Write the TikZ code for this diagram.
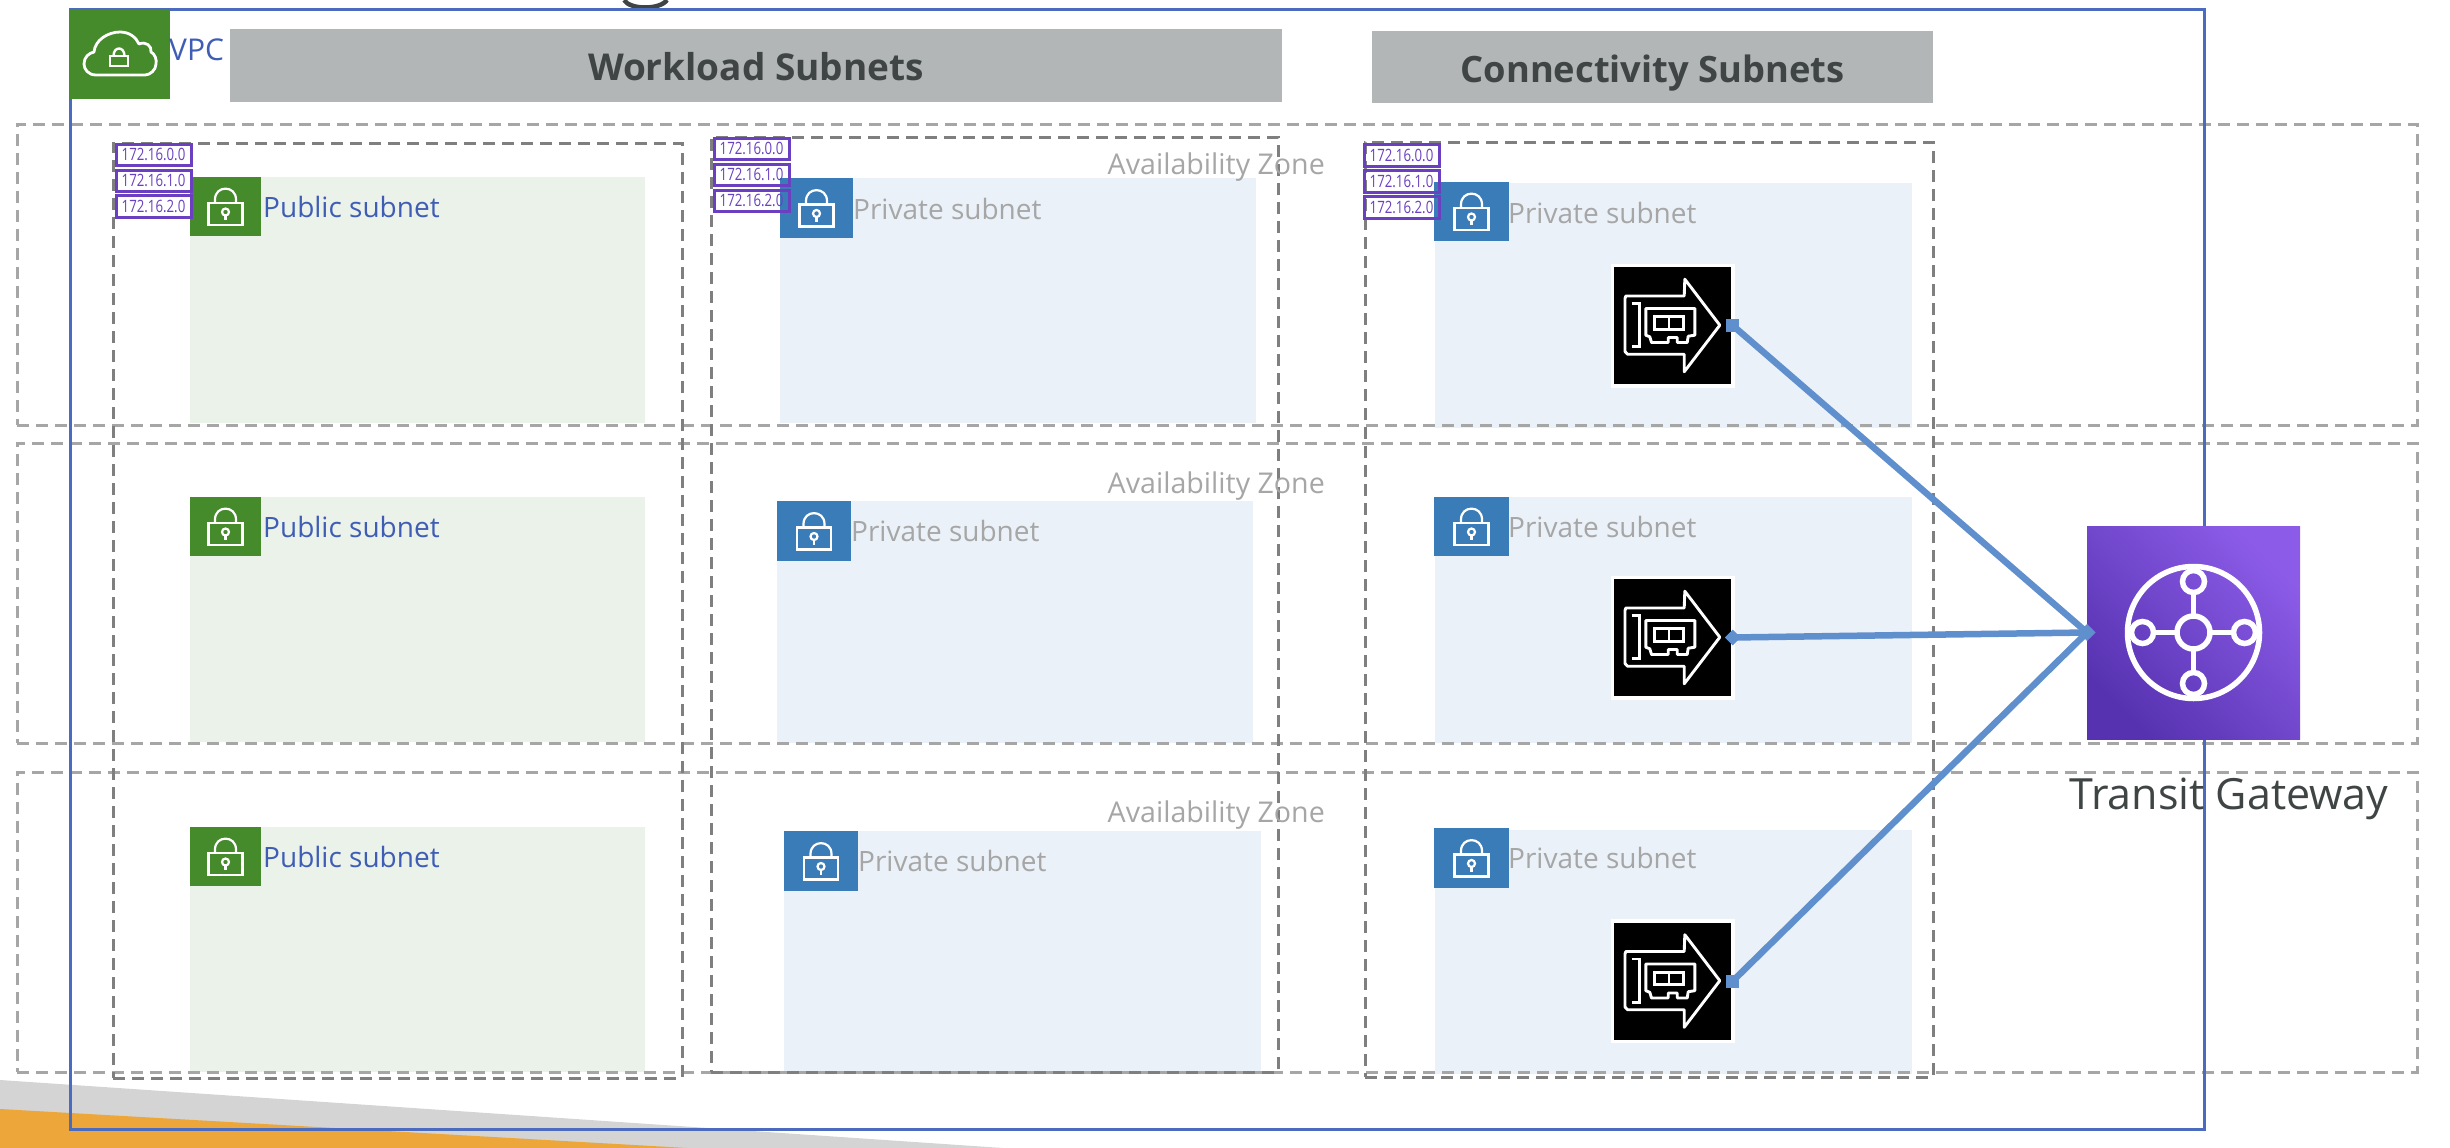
\documentclass[tikz,border=0pt]{standalone}
\usepackage{fontspec}
\setmainfont{Open Sans}
\newfontfamily\cidrfont[FakeStretch=0.78]{Open Sans}
\definecolor{vpcblue}{HTML}{4A6BBE}
\definecolor{labelblue}{HTML}{3F5DB5}
\definecolor{azgray}{HTML}{A6A6A6}
\definecolor{colgray}{HTML}{7F7F7F}
\definecolor{banner}{HTML}{B3B6B6}
\definecolor{inktext}{HTML}{3F4444}
\definecolor{pubfill}{HTML}{EAF2EA}
\definecolor{privfill}{HTML}{EAF1F8}
\definecolor{pubicon}{HTML}{458A2B}
\definecolor{privicon}{HTML}{3A7CB8}
\definecolor{cidr}{HTML}{6A3FC0}
\definecolor{conn}{HTML}{5F8FCC}
\definecolor{wedgegray}{HTML}{D4D4D4}
\definecolor{wedgeorange}{HTML}{ECA63A}
\definecolor{tgwlow}{HTML}{5632B0}
\definecolor{tgwhigh}{HTML}{8C5CE8}
\newcommand{\fs}[1]{\fontsize{#1}{#1}\selectfont}
\newcommand{\rectnode}[7]{%
  \pgfmathsetmacro{\rw}{#5-#3}\pgfmathsetmacro{\rh}{#6-#4}%
  \node[#2,anchor=north west,minimum width=\rw pt,minimum height=\rh pt] (#1) at (#3,#4) {#7};}
\newcommand{\lockbox}[6]{%
  \rectnode{#1}{#2}{#3}{#4}{#5}{#6}{}%
  \pic at (#1.center) {lockicon};}
\tikzset{
  x=1pt,y=-1pt,
  flat/.style={inner sep=0pt,outer sep=0pt,draw=none},
  azbox/.style={flat,draw=azgray,line width=3pt,dash pattern=on 12pt off 7pt},
  colbox/.style={flat,draw=colgray,line width=3pt,dash pattern=on 12pt off 7pt},
  bannerbox/.style={flat,fill=banner,text=inktext,text height=31pt,text depth=0pt,font=\bfseries\fs{37}},
  pubnet/.style={flat,fill=pubfill},
  privnet/.style={flat,fill=privfill},
  pubbadge/.style={flat,fill=pubicon},
  privbadge/.style={flat,fill=privicon},
  cidrbox/.style={flat,draw=cidr,line width=3pt,text=cidr,font=\cidrfont\fs{17}},
  publabel/.style={inner sep=0pt,anchor=west,text=labelblue,font=\fs{28}},
  privlabel/.style={inner sep=0pt,anchor=west,text=azgray,font=\fs{28}},
  azlabel/.style={inner sep=0pt,anchor=east,text=azgray,font=\fs{28.6}},
  nicbox/.style={flat,fill=black,draw=white,line width=3.5pt,minimum size=120.5pt},
  link/.style={draw=conn,line width=6.5pt},
  sqtip/.style={flat,fill=conn,minimum size=13pt},
  lockicon/.pic={
    \draw[white,line width=2.2pt] (-17,-3.5) rectangle (17,18.5);
    \draw[white,line width=2.2pt] (-10.5,-3.5) -- (-10.5,-7) .. controls (-10.5,-21.5) and (10.5,-21.5) .. (10.5,-7) -- (10.5,-3.5);
    \draw[white,line width=2.2pt] (0,5.5) circle (3.5);
    \draw[white,line width=2.2pt] (0,9) -- (0,13.5);
  },
  nicicon/.pic={
    \draw[white,line width=2.9pt,line join=round]
      (-46.7,-29.5) -- (11.7,-29.5) -- (12.3,-46.3) -- (47.3,-0.3) -- (11.7,46.3) -- (11.7,28.7) -- (-45,28.7) -- (-47.5,26) -- (-47.5,-27) -- cycle;
    \draw[white,line width=2.9pt] (-41,-22) -- (-32.7,-22) -- (-32.7,21.3) -- (-41,21.3);
    \draw[white,line width=2.9pt,line join=round] (-26.7,-17) -- (22.3,-17) -- (22.3,9.7) -- (15.7,10.7) -- (14.7,17) -- (4.7,17) -- (4.7,12) -- (-4.3,12) -- (-4.3,17) -- (-21,17) -- (-22.7,11.3) -- (-26.7,9.7) -- cycle;
    \draw[white,line width=2.9pt] (-17.7,-8.7) rectangle (10.7,3.7);
    \draw[white,line width=2.9pt] (-3.5,-8.7) -- (-3.5,3.7);
  },
  hubicon/.pic={
    \draw[white,line width=5.5pt] (0,0) circle (66);
    \draw[white,line width=5.5pt] (0,0) circle (16.5);
    \foreach \dx/\dy in {0/-51,0/51,-51/0,51/0}{
      \draw[white,line width=5.5pt] (\dx,\dy) circle (11);
    }
    \draw[white,line width=4.5pt] (0,-16.5) -- (0,-38) (0,16.5) -- (0,38) (-16.5,0) -- (-38,0) (16.5,0) -- (38,0);
  },
}
\begin{document}
\begin{tikzpicture}
\useasboundingbox (0,0) rectangle (2450,1148);
% slide corner and cut-off title
\fill[wedgegray] (0,1080) -- (1003,1148) -- (0,1148) -- cycle;
\fill[wedgeorange] (0,1109) -- (687,1148) -- (0,1148) -- cycle;
\draw[inktext,line width=4.5pt] (624,0) .. controls (630,10) and (660,10) .. (667,0);
% subnets
\rectnode{pub1}{pubnet}{190}{177}{645}{423}{}
\rectnode{pub2}{pubnet}{190}{497}{645}{742}{}
\rectnode{pub3}{pubnet}{190}{827}{645}{1072}{}
\rectnode{pri1}{privnet}{780}{178}{1256}{423}{}
\rectnode{pri2}{privnet}{777}{501}{1253}{743}{}
\rectnode{pri3}{privnet}{784}{831}{1261}{1072}{}
\rectnode{con1}{privnet}{1435}{183}{1912}{428}{}
\rectnode{con2}{privnet}{1435}{497}{1912}{743}{}
\rectnode{con3}{privnet}{1435}{830}{1912}{1074}{}
% availability zones
\rectnode{az1}{azbox}{17}{124}{2417}{425}{}
\rectnode{az2}{azbox}{17}{443}{2417}{743}{}
\rectnode{az3}{azbox}{17}{772}{2417}{1072}{}
% columns
\rectnode{col1}{colbox}{113}{143}{682}{1078}{}
\rectnode{col2}{colbox}{711}{137}{1278}{1072}{}
\rectnode{col3}{colbox}{1365}{142}{1933}{1077}{}
% VPC
\rectnode{vpc}{flat,draw=vpcblue,line width=3pt}{70}{10}{2204}{1129}{}
\rectnode{vpcbadge}{pubbadge}{70}{10}{169.5}{99}{}
\draw[white,line width=2.8pt,line join=round] (96,75) .. controls (88,75) and (84,69) .. (84,64) .. controls (84,57) and (89,53) .. (94,52) .. controls (95,40) and (108,32) .. (120,32) .. controls (129,32) and (136,37) .. (139,44) .. controls (146,41) and (152,46) .. (151,52) .. controls (155,54) and (157,60) .. (156,64) .. controls (156,70) and (150,75) .. (145,75) -- cycle;
\draw[white,line width=2.4pt] (110,56) rectangle (128,66);
\draw[white,line width=2.4pt] (113.5,56) .. controls (113.5,46) and (124.5,46) .. (124.5,56);
\node[publabel,font=\fs{30}] (vpclabel) at (169,50) {VPC};
% banners
\rectnode{workload}{bannerbox}{230}{29}{1282}{102}{Workload Subnets}
\rectnode{connectivity}{bannerbox,font=\bfseries\fs{36.3}}{1372}{31}{1933}{103}{Connectivity Subnets}
% availability zone labels
\node[azlabel] (azl1) at (1325,167) {Availability Zone};
\node[azlabel] (azl2) at (1325,486) {Availability Zone};
\node[azlabel] (azl3) at (1325,815) {Availability Zone};
% subnet badges and labels
\lockbox{pb1}{pubbadge}{190}{177}{261}{236}
\lockbox{pb2}{pubbadge}{190}{497}{261}{556}
\lockbox{pb3}{pubbadge}{190}{827}{261}{886}
\node[publabel] (pl1) at (263,207) {Public subnet};
\node[publabel] (pl2) at (263,527) {Public subnet};
\node[publabel] (pl3) at (263,857) {Public subnet};
\lockbox{vb1}{privbadge}{780}{178}{853}{238}
\lockbox{vb2}{privbadge}{777}{501}{851}{561}
\lockbox{vb3}{privbadge}{784}{831}{858}{891}
\node[privlabel] (vl1) at (853,209) {Private subnet};
\node[privlabel] (vl2) at (851,531) {Private subnet};
\node[privlabel] (vl3) at (858,861) {Private subnet};
\lockbox{cb1}{privbadge}{1434}{182}{1509}{241}
\lockbox{cb2}{privbadge}{1434}{497}{1509}{556}
\lockbox{cb3}{privbadge}{1434}{828}{1509}{888}
\node[privlabel] (cl1) at (1508,213) {Private subnet};
\node[privlabel] (cl2) at (1508,527) {Private subnet};
\node[privlabel] (cl3) at (1508,858) {Private subnet};
% CIDR blocks
\rectnode{a0}{cidrbox}{116}{144}{191}{165}{172.16.0.0}
\rectnode{a1}{cidrbox}{116}{170}{191}{191}{172.16.1.0}
\rectnode{a2}{cidrbox}{116}{195}{191}{217}{172.16.2.0}
\rectnode{b0}{cidrbox}{714}{138}{789}{159}{172.16.0.0}
\rectnode{b1}{cidrbox}{714}{164}{789}{185}{172.16.1.0}
\rectnode{b2}{cidrbox}{714}{190}{789}{211}{172.16.2.0}
\rectnode{c0}{cidrbox}{1364}{144}{1439}{166}{172.16.0.0}
\rectnode{c1}{cidrbox}{1364}{170}{1439}{192}{172.16.1.0}
\rectnode{c2}{cidrbox}{1364}{196}{1439}{218}{172.16.2.0}
% network interfaces
\node[nicbox] (nic1) at (1672.5,325.5) {};
\pic at (nic1.center) {nicicon};
\node[nicbox] (nic2) at (1672.5,637.5) {};
\pic at (nic2.center) {nicicon};
\node[nicbox] (nic3) at (1672.5,981) {};
\pic at (nic3.center) {nicicon};
% transit gateway
\node[flat,minimum size=213pt,bottom color=tgwlow,top color=tgwhigh,shading angle=-45] (tgw) at (2193.5,632.5) {};
\pic at (tgw.center) {hubicon};
\node[inner sep=0pt,anchor=base,text=inktext,font=\fs{43}] (tgwlabel) at (2229,809) {Transit Gateway};
% connectors
\node[sqtip] (s1) at (nic1.east) {};
\node[sqtip,rotate=45,minimum size=11pt] (s2) at (nic2.east) {};
\node[sqtip] (s3) at (nic3.east) {};
\node[sqtip,rotate=45,minimum size=12pt] (hub) at (tgw.west) {};
\draw[link] (s1.center) -- (hub.center);
\draw[link] (s2.center) -- (hub.center);
\draw[link] (s3.center) -- (hub.center);
\end{tikzpicture}
\end{document}
